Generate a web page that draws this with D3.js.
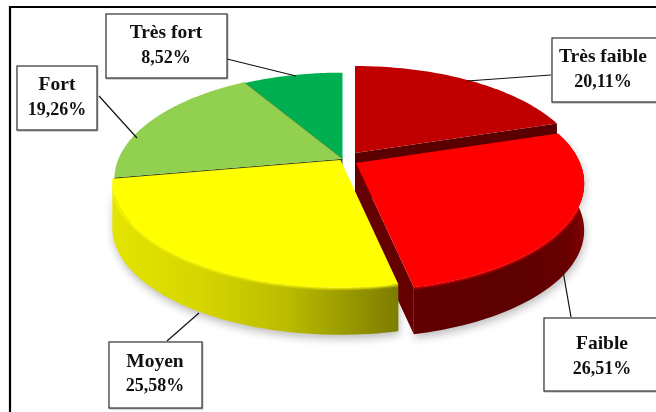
<!DOCTYPE html>
<html lang="fr">
<head>
<meta charset="utf-8">
<script src="https://cdn.jsdelivr.net/npm/d3@7/dist/d3.min.js"></script>
<style>
  html, body { margin: 0; padding: 0; background: #fff; }
  svg { display: block; }
  text { font-family: "Liberation Serif", serif; font-weight: 700; fill: #111; text-anchor: middle; }
</style>
</head>
<body>
<svg id="chart" width="656" height="412"></svg>
<script>
// Répartition par classe de niveau
const categories = ["Très faible", "Faible", "Moyen", "Fort", "Très fort"];
const shares = [20.11, 26.51, 25.58, 19.26, 8.52];
const shareLabels = ["20,11%", "26,51%", "25,58%", "19,26%", "8,52%"];

const topColors = ["#c00000", "#ff0000", "#ffff00", "#92d050", "#00b050"];

// Slice apex on the page; exploded slices sit away from the common centre
const apexes = [[355, 153], [356, 163], [340.5, 160], [342.5, 158.8], [342.5, 159.6]];
// Callout boxes: x, y, w, h, text centre x, two baselines, leader start and end
const callouts = [
  { box: [552, 38, 106, 64], cx: 603, base: [62, 87], lead: [[551, 75], [467, 81]] },
  { box: [544, 318, 114, 73], cx: 602, base: [349, 374], lead: [[571, 317], [563, 271]] },
  { box: [109, 342, 93, 66], cx: 155, base: [367, 391], lead: [[167, 341], [199, 313]] },
  { box: [17, 66, 80, 64], cx: 57, base: [90, 115], lead: [[99, 96], [137, 138]] },
  { box: [106, 14, 121, 64], cx: 166, base: [38, 63], lead: [[227, 59], [296, 76]] }
];

const RX = 224, RY = 103.5, PERSPECTIVE = 0.19, DEPTH = 47;

// Tilted disc: angle clockwise from 12 o'clock, radial fraction r, in page offsets
function project(angle, r = 1) {
  const u = r * Math.sin(angle), v = -r * Math.cos(angle);
  const w = 1 - PERSPECTIVE * v;
  return [RX * u / w, RY * v / w];
}

const pie = d3.pie().sort(null).value(d => d).startAngle(0).endAngle(2 * Math.PI);
const slices = pie(shares).map((s, i) => ({ ...s, i, apex: apexes[i] }));

const line = d3.line();
const arcPoints = (s, dy = 0) => {
  const steps = 60;
  const angle = d3.scaleLinear().domain([0, steps]).range([s.startAngle, s.endAngle]);
  return d3.range(steps + 1).map(k => {
    const [x, y] = project(angle(k));
    return [s.apex[0] + x, s.apex[1] + y + dy];
  });
};
const topPath = s => line([s.apex, ...arcPoints(s)]) + "Z";
const outerWall = s => line([...arcPoints(s), ...arcPoints(s, DEPTH).reverse()]) + "Z";
const radialWall = (s, angle) => {
  const [x, y] = project(angle);
  const [ax, ay] = s.apex;
  return line([[ax, ay], [ax + x, ay + y], [ax + x, ay + y + DEPTH], [ax, ay + DEPTH]]) + "Z";
};

const svg = d3.select("#chart");
const defs = svg.append("defs");

defs.append("filter").attr("id", "soft")
  .attr("x", "-20%").attr("y", "-20%").attr("width", "140%").attr("height", "140%")
  .append("feGaussianBlur").attr("stdDeviation", 4);
defs.append("filter").attr("id", "bevel")
  .attr("filterUnits", "userSpaceOnUse")
  .attr("x", 0).attr("y", 0).attr("width", 656).attr("height", 412)
  .append("feGaussianBlur").attr("stdDeviation", 1.3);
const boxShadow = defs.append("filter").attr("id", "boxShadow");
boxShadow.append("feDropShadow")
  .attr("dx", 0.6).attr("dy", 0.8).attr("stdDeviation", 0.7)
  .attr("flood-color", "#000").attr("flood-opacity", 0.35);

// The rim highlight stays on the wall it belongs to
[1, 2].forEach(i => {
  defs.append("clipPath").attr("id", `rim${i}`)
    .append("path").attr("d", outerWall(slices[i]));
});

// Side wall shading: yellow darkens toward the cut, red stays close to maroon
const gradient = (id, x1, x2, stops) => {
  const g = defs.append("linearGradient").attr("id", id)
    .attr("gradientUnits", "userSpaceOnUse")
    .attr("x1", x1).attr("x2", x2).attr("y1", 0).attr("y2", 0);
  stops.forEach(([o, c]) => g.append("stop").attr("offset", o).attr("stop-color", c));
};
gradient("wallMoyen", 113, 399, [[0, "#e4e400"], [0.3, "#d6d600"], [0.6, "#bcbc00"], [0.8, "#9c9c00"], [1, "#7c7c00"]]);
gradient("wallFaible", 413, 584, [[0, "#620000"], [0.6, "#5c0000"], [0.9, "#680000"], [1, "#800000"]]);

// Page frame, open on the right and at the bottom
svg.append("path")
  .attr("d", line([[10, 412], [10, 7], [656, 7]]))
  .attr("fill", "none").attr("stroke", "#000").attr("stroke-width", 2.2);

// Soft ground shadow below and beside the discs
const shadow = svg.append("g").attr("filter", "url(#soft)").attr("opacity", 0.32);
[slices[1], slices[2]].forEach(s => {
  shadow.append("path").attr("d", outerWall(s)).attr("transform", "translate(1,4)").attr("fill", "#333");
});
shadow.append("path").attr("d", radialWall(slices[0], slices[0].startAngle))
  .attr("transform", "translate(-5,0)").attr("fill", "#555")
  .attr("opacity", 0.55);

// Back slices first, then the exploded pair, and the yellow slice in front
const drawTop = s => svg.append("path").attr("d", topPath(s)).attr("fill", topColors[s.i]);
const drawRim = s => svg.append("g").attr("clip-path", `url(#rim${s.i})`)
  .append("path").attr("d", line(arcPoints(s))).attr("fill", "none")
  .attr("stroke", topColors[s.i]).attr("stroke-width", 2.5).attr("filter", "url(#bevel)");

svg.append("path").attr("d", radialWall(slices[3], slices[3].startAngle)).attr("fill", "#3a4a10");
drawTop(slices[4]);
drawTop(slices[3]);
{
  const [x, y] = project(slices[3].endAngle);
  const [ax, ay] = slices[3].apex;
  svg.append("path").attr("d", line([[ax, ay], [ax + x, ay + y]]))
    .attr("stroke", "#4f8a32").attr("stroke-width", 0.8).attr("fill", "none");
}

svg.append("path").attr("d", radialWall(slices[0], slices[0].endAngle)).attr("fill", "#5a0000");
drawTop(slices[0]);

svg.append("path").attr("d", radialWall(slices[1], slices[1].endAngle)).attr("fill", "#640000");
svg.append("path").attr("d", outerWall(slices[1])).attr("fill", "url(#wallFaible)");
drawRim(slices[1]);
drawTop(slices[1]);

svg.append("path").attr("d", outerWall(slices[2])).attr("fill", "url(#wallMoyen)");
drawRim(slices[2]);
drawTop(slices[2]);

// Callouts with leader lines
const labels = svg.append("g").selectAll("g").data(categories).join("g");
labels.append("path")
  .attr("d", (d, i) => line(callouts[i].lead))
  .attr("fill", "none").attr("stroke", "#111").attr("stroke-width", 1.2);
labels.append("rect")
  .attr("x", (d, i) => callouts[i].box[0]).attr("y", (d, i) => callouts[i].box[1])
  .attr("width", (d, i) => callouts[i].box[2]).attr("height", (d, i) => callouts[i].box[3])
  .attr("fill", "#fff").attr("stroke", "#333").attr("stroke-width", 1.2)
  .attr("filter", "url(#boxShadow)");
labels.append("text").attr("font-size", 19.5)
  .attr("x", (d, i) => callouts[i].cx).attr("y", (d, i) => callouts[i].base[0])
  .text(d => d);
labels.append("text").attr("font-size", 18)
  .attr("x", (d, i) => callouts[i].cx).attr("y", (d, i) => callouts[i].base[1])
  .text((d, i) => shareLabels[i]);
</script>
</body>
</html>
